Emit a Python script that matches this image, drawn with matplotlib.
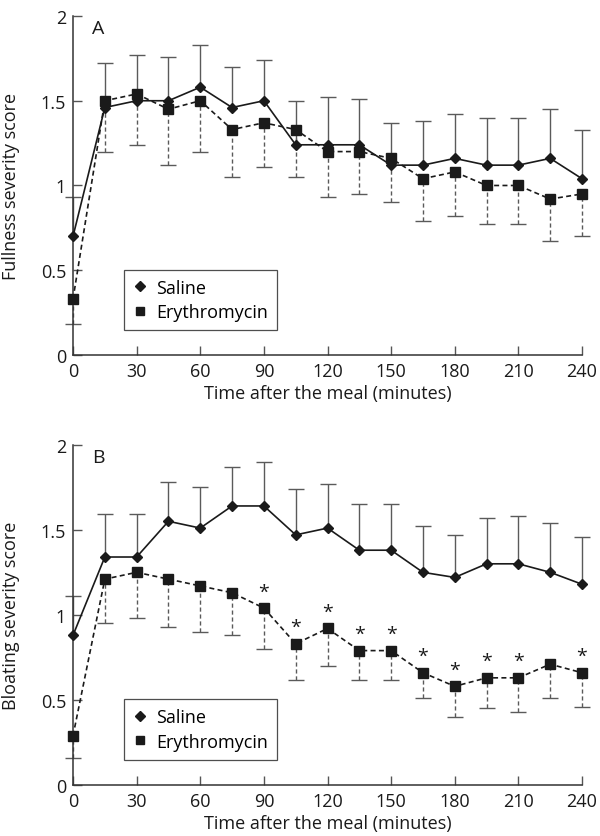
import matplotlib
matplotlib.use("Agg")
import matplotlib.pyplot as plt
from matplotlib.lines import Line2D
import numpy as np

plt.rcParams['font.family'] = ['Open Sans', 'DejaVu Sans']

time = [0, 15, 30, 45, 60, 75, 90, 105, 120, 135, 150, 165, 180, 195, 210, 225, 240]

fullness_saline = [0.70, 1.46, 1.50, 1.50, 1.58, 1.46, 1.50, 1.24, 1.24, 1.24, 1.12, 1.12, 1.16, 1.12, 1.12, 1.16, 1.04]
fullness_saline_upper = [0.93, 1.72, 1.77, 1.76, 1.83, 1.70, 1.74, 1.50, 1.52, 1.51, 1.37, 1.38, 1.42, 1.40, 1.40, 1.45, 1.33]
fullness_ery = [0.33, 1.50, 1.54, 1.45, 1.50, 1.33, 1.37, 1.33, 1.20, 1.20, 1.16, 1.04, 1.08, 1.00, 1.00, 0.92, 0.95]
fullness_ery_lower = [0.18, 1.20, 1.24, 1.12, 1.20, 1.05, 1.11, 1.05, 0.93, 0.95, 0.90, 0.79, 0.82, 0.77, 0.77, 0.67, 0.70]

bloating_saline = [0.88, 1.34, 1.34, 1.55, 1.51, 1.64, 1.64, 1.47, 1.51, 1.38, 1.38, 1.25, 1.22, 1.30, 1.30, 1.25, 1.18]
bloating_saline_upper = [1.11, 1.59, 1.59, 1.78, 1.75, 1.87, 1.90, 1.74, 1.77, 1.65, 1.65, 1.52, 1.47, 1.57, 1.58, 1.54, 1.46]
bloating_ery = [0.29, 1.21, 1.25, 1.21, 1.17, 1.13, 1.04, 0.83, 0.92, 0.79, 0.79, 0.66, 0.58, 0.63, 0.63, 0.71, 0.66]
bloating_ery_lower = [0.16, 0.95, 0.98, 0.93, 0.90, 0.88, 0.80, 0.62, 0.70, 0.62, 0.62, 0.51, 0.40, 0.45, 0.43, 0.51, 0.46]

bloating_signif_times = [90, 105, 120, 135, 150, 165, 180, 195, 210, 240]

xticks = [0, 30, 60, 90, 120, 150, 180, 210, 240]
yticks = [0, 0.5, 1, 1.5, 2]
ytick_labels = ["0", "0.5", "1", "1.5", "2"]
series_names = ["Saline", "Erythromycin"]

FS = 13
INK = '#1a1a1a'
BAR = '#5a5a5a'

fig = plt.figure(figsize=(6.0, 8.37), dpi=100)
axA = fig.add_axes([0.1217, 0.5747, 0.8483, 0.4050])
axB = fig.add_axes([0.1217, 0.0609, 0.8483, 0.4066])


def draw_panel(ax, saline, sal_up, ery, ery_lo, letter, ylabel, signif=None):
    t = np.array(time, dtype=float)
    s = np.array(saline)
    su = np.array(sal_up)
    e = np.array(ery)
    el = np.array(ery_lo)
    # saline upper error bars (solid)
    eb = ax.errorbar(t, s, yerr=[np.zeros_like(s), su - s], fmt='none',
                     ecolor=BAR, elinewidth=1.0, capsize=5.5, capthick=1.0,
                     clip_on=False, zorder=2)
    caps = eb.lines[1]
    if len(caps) >= 2:
        caps[0].set_visible(False)
    for c in caps:
        c.set_clip_on(False)
        c.set_color('#333333')
    for bl in eb.lines[2]:
        bl.set_clip_on(False)
    # erythromycin lower error bars (dashed)
    eb2 = ax.errorbar(t, e, yerr=[e - el, np.zeros_like(e)], fmt='none',
                      ecolor=BAR, elinewidth=1.0, capsize=5.5, capthick=1.0,
                      clip_on=False, zorder=2)
    caps2 = eb2.lines[1]
    if len(caps2) >= 2:
        caps2[1].set_visible(False)
    for c in caps2:
        c.set_clip_on(False)
        c.set_color('#333333')
    for bl in eb2.lines[2]:
        bl.set_linestyle((0, (3, 2)))
        bl.set_clip_on(False)
    # lines with markers
    ax.plot(t, s, color=INK, lw=1.2, marker='D', ms=5.6, mfc=INK, mec=INK,
            clip_on=False, zorder=4)
    ax.plot(t, e, color=INK, lw=1.2, ls=(0, (3, 2)), marker='s', ms=6.8,
            mfc=INK, mec=INK, clip_on=False, zorder=4)
    if signif:
        for ts in signif:
            yv = e[time.index(ts)]
            ax.text(ts, yv + 0.045, '*', ha='center', va='bottom', fontsize=14,
                    color=INK, zorder=5)

    ax.set_xlim(0, 240)
    ax.set_ylim(0, 2)
    ax.set_xticks(xticks)
    ax.set_xticklabels([str(x) for x in xticks])
    ax.set_yticks(yticks)
    ax.set_yticklabels(ytick_labels)
    for sp in ['top', 'right']:
        ax.spines[sp].set_visible(False)
    for sp in ['left', 'bottom']:
        ax.spines[sp].set_color('#333333')
        ax.spines[sp].set_linewidth(1.1)
    ax.tick_params(direction='in', length=6.5, width=1.0, color='#555555',
                   labelsize=FS, labelcolor=INK, pad=5)
    ax.set_xlabel("Time after the meal (minutes)", fontsize=FS, color=INK, labelpad=3)
    ax.set_ylabel(ylabel, fontsize=FS, color=INK)
    ax.yaxis.set_label_coords(-0.105, 0.5)
    ax.text(0.037, 0.99, letter, transform=ax.transAxes, ha='left', va='top',
            fontsize=FS + 1, color=INK)

    handles = [Line2D([], [], ls='none', marker='D', ms=4.8, color=INK),
               Line2D([], [], ls='none', marker='s', ms=5.4, color=INK)]
    leg = ax.legend(handles, series_names, loc='lower left',
                    bbox_to_anchor=(0.100, 0.074), fontsize=FS, frameon=True,
                    fancybox=False, edgecolor='#222222', handlelength=0.8,
                    handletextpad=0.5, borderpad=0.5, labelspacing=0.35,
                    borderaxespad=0.0)
    leg.get_frame().set_linewidth(0.9)


draw_panel(axA, fullness_saline, fullness_saline_upper, fullness_ery, fullness_ery_lower,
           'A', 'Fullness severity score')
draw_panel(axB, bloating_saline, bloating_saline_upper, bloating_ery, bloating_ery_lower,
           'B', 'Bloating severity score', signif=bloating_signif_times)

fig.savefig('out.png', dpi=100)
